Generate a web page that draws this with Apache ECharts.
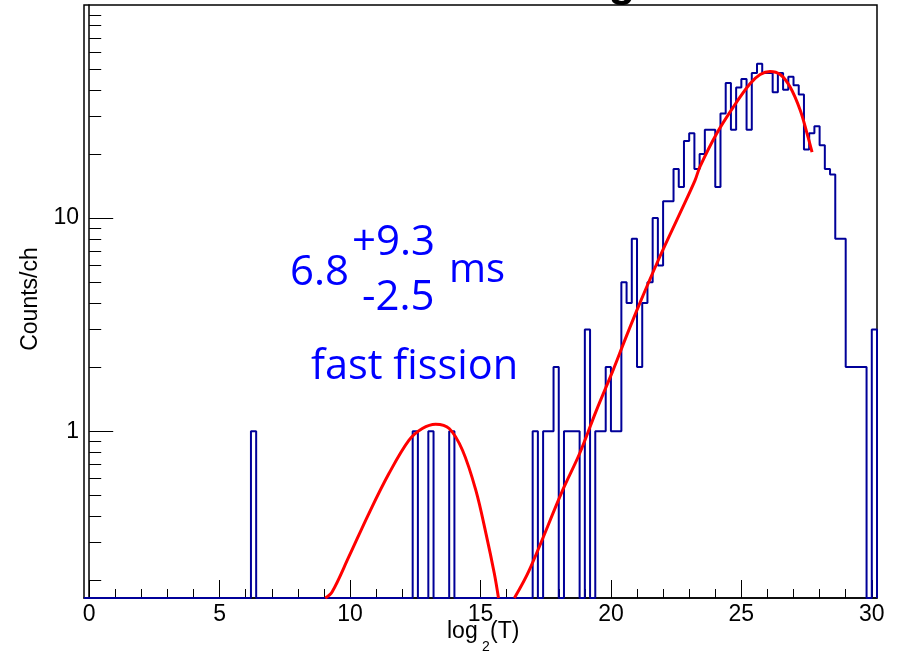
<!DOCTYPE html>
<html><head><meta charset="utf-8">
<script src="https://cdn.jsdelivr.net/npm/echarts@6.0.0/dist/echarts.min.js"></script>
<style>html,body{margin:0;padding:0;background:#fff}#c{width:899px;height:653px}</style>
</head><body><div id="c"></div>
<script>
// ---------- data ----------
const xTickLabels = [0, 5, 10, 15, 20, 25, 30];
const xMinorTicks = [1,2,3,4,6,7,8,9,11,12,13,14,16,17,18,19,21,22,23,24,26,27,28,29];
const yTickLabels = [1, 10];
const yMinorTicks = [0.2,0.3,0.4,0.5,0.6,0.7,0.8,0.9,2,3,4,5,6,7,8,9,20,30,40,50,60,70,80,90];

// histogram: left edge of each filled bin (log2(T)) and its counts
const binWidth = 0.2;
const binLeft = [6.2, 12.4, 13.0, 13.8,
  17.0,17.2,17.4,17.6,17.8,18.0,18.2,18.4,18.6,18.8,19.0,19.2,19.4,19.6,19.8,20.0,20.2,
  20.4,20.6,20.8,21.0,21.2,21.4,21.6,21.8,22.0,22.2,22.4,22.6,22.8,23.0,23.2,23.4,23.6,
  23.8,24.0,24.2,24.4,24.6,24.8,25.0,25.2,25.4,25.6,25.8,26.0,26.2,26.4,26.6,26.8,27.0,
  27.2,27.4,27.6,27.8,28.0,28.2,28.4,28.6,28.8,29.0,29.2,29.4,29.6,29.8,30.0];
const binCounts = [1, 1, 1, 1,
  1,0,1,1,2,0,1,1,1,0,3,0,1,1,2,1,1,
  5,4,8,2,4,5,10,6,12,12,17,14,23,25,17,20,26,
  26,14,31,43,26,41,45,26,48,53,48,48,39,48,40,46,42,
  38,21,25,27,22,17,16,8,8,2,2,2,2,0,3];

// fitted decay curves
const fitFastX = [9.05, 9.31, 9.95, 10.72, 11.49, 12.26, 12.77, 13.28, 13.80, 14.31, 14.82, 15.21, 15.53, 15.69];
const fitFastY = [0.165, 0.176, 0.257, 0.411, 0.633, 0.908, 1.03, 1.079, 1.03, 0.814, 0.529, 0.331, 0.215, 0.165];
const fitSlowX = [16.3, 16.87, 18.15, 18.8, 19.44, 20.08, 20.53, 21.1, 21.87, 22.64, 23.22, 23.41, 24.05, 24.69, 25.33, 25.72, 26.1, 26.49, 26.87, 27.26, 27.52, 27.71];
const fitSlowY = [0.165, 0.223, 0.529, 0.786, 1.25, 1.93, 2.67, 3.97, 6.57, 10.5, 15.0, 17.4, 24.9, 33.2, 42.7, 47.2, 48.8, 47.2, 41.2, 32.0, 24.9, 20.4];

// ---------- build ----------
const X_MIN = -0.2, X_MAX = 30.2, Y_MIN = 0.165, Y_MAX = 100;

function histPoints() {
  const pts = [[X_MIN, Y_MIN]];
  let lastX = X_MIN;
  for (let i = 0; i < binLeft.length; i++) {
    const x0 = binLeft[i], x1 = +(x0 + binWidth).toFixed(4);
    const v = binCounts[i] > 0 ? binCounts[i] : Y_MIN;
    if (x0 - lastX > 1e-6) { pts.push([lastX, Y_MIN]); pts.push([x0, Y_MIN]); }
    pts.push([x0, v]); pts.push([x1, v]);
    lastX = x1;
  }
  pts.push([lastX, Y_MIN]);
  if (X_MAX - lastX > 1e-6) pts.push([X_MAX, Y_MIN]);
  return pts;
}
const zip = (a, b) => a.map((v, i) => [v, b[i]]);

const FONT = '"Liberation Sans", Arial, Helvetica, sans-serif';
const ANN = '"Open Sans", sans-serif';
const BLUE = '#0000ff';

const chart = echarts.init(document.getElementById('c'), null, {renderer: 'canvas'});
chart.setOption({
  animation: false,
  backgroundColor: '#ffffff',
  textStyle: {fontFamily: FONT},
  grid: {left: 84, right: 22, top: 5, bottom: 55, show: true, borderColor: '#000', borderWidth: 1.5, containLabel: false},
  xAxis: [
    {type: 'value', min: X_MIN, max: X_MAX, position: 'bottom',
     axisLine: {show: true, lineStyle: {color: '#000', width: 1.5}},
     axisTick: {show: true, inside: true, length: 18, customValues: xTickLabels, lineStyle: {color: '#000', width: 1}},
     axisLabel: {show: true, customValues: xTickLabels, color: '#000', fontSize: 23, fontFamily: FONT, margin: 5},
     splitLine: {show: false}},
    {type: 'value', min: X_MIN, max: X_MAX, position: 'bottom',
     axisLine: {show: false},
     axisTick: {show: true, inside: true, length: 9, customValues: xMinorTicks, lineStyle: {color: '#000', width: 1}},
     axisLabel: {show: false}, splitLine: {show: false}}
  ],
  yAxis: [
    {type: 'log', logBase: 10, min: Y_MIN, max: Y_MAX, position: 'left',
     axisLine: {show: true, lineStyle: {color: '#000', width: 1.5}},
     axisTick: {show: true, inside: true, length: 24, customValues: yTickLabels, lineStyle: {color: '#000', width: 1}},
     axisLabel: {show: true, customValues: yTickLabels, color: '#000', fontSize: 23, fontFamily: FONT, margin: 5},
     splitLine: {show: false}},
    {type: 'log', logBase: 10, min: Y_MIN, max: Y_MAX, position: 'left',
     axisLine: {show: false},
     axisTick: {show: true, inside: true, length: 12, customValues: yMinorTicks, lineStyle: {color: '#000', width: 1}},
     axisLabel: {show: false}, splitLine: {show: false}}
  ],
  series: [
    {type: 'line', data: histPoints(), xAxisIndex: 0, yAxisIndex: 0, symbol: 'none', showSymbol: false,
     lineStyle: {color: '#000099', width: 2}, clip: false, z: 3},
    {type: 'line', data: zip(fitFastX, fitFastY), xAxisIndex: 0, yAxisIndex: 0, symbol: 'none', smooth: 0.35,
     lineStyle: {color: '#ff0000', width: 3}, z: 4},
    {type: 'line', data: zip(fitSlowX, fitSlowY), xAxisIndex: 0, yAxisIndex: 0, symbol: 'none', smooth: 0.35,
     lineStyle: {color: '#ff0000', width: 3}, z: 4}
  ],
  graphic: [
    {type: 'text', x: 31, y: 299, rotation: Math.PI / 2,
     style: {text: 'Counts/ch', fontSize: 23, fontFamily: FONT, fill: '#000', align: 'center', verticalAlign: 'middle'}},
    {type: 'text', x: 447, y: 632, style: {text: 'log', fontSize: 23, fontFamily: FONT, fill: '#000', align: 'left', verticalAlign: 'middle'}},
    {type: 'text', x: 482, y: 647, style: {text: '2', fontSize: 14, fontFamily: FONT, fill: '#000', align: 'left', verticalAlign: 'middle'}},
    {type: 'text', x: 490, y: 632, style: {text: '(T)', fontSize: 23, fontFamily: FONT, fill: '#000', align: 'left', verticalAlign: 'middle'}},
    {type: 'text', x: 622, y: -16, style: {text: 'g', fontSize: 44, fontWeight: 'bold', fontFamily: FONT, fill: '#000', align: 'center', verticalAlign: 'middle'}},
    {type: 'text', x: 290, y: 273, style: {text: '6.8', fontSize: 42, fontFamily: ANN, fill: BLUE, align: 'left', verticalAlign: 'middle'}},
    {type: 'text', x: 352, y: 243, style: {text: '+9.3', fontSize: 42, fontFamily: ANN, fill: BLUE, align: 'left', verticalAlign: 'middle'}},
    {type: 'text', x: 362, y: 298, style: {text: '-2.5', fontSize: 42, fontFamily: ANN, fill: BLUE, align: 'left', verticalAlign: 'middle'}},
    {type: 'text', x: 449, y: 271, style: {text: 'ms', fontSize: 40, fontFamily: ANN, fill: BLUE, align: 'left', verticalAlign: 'middle'}},
    {type: 'text', x: 311, y: 367, style: {text: 'fast fission', fontSize: 41.5, fontFamily: ANN, fill: BLUE, align: 'left', verticalAlign: 'middle'}}
  ]
});
</script></body></html>
